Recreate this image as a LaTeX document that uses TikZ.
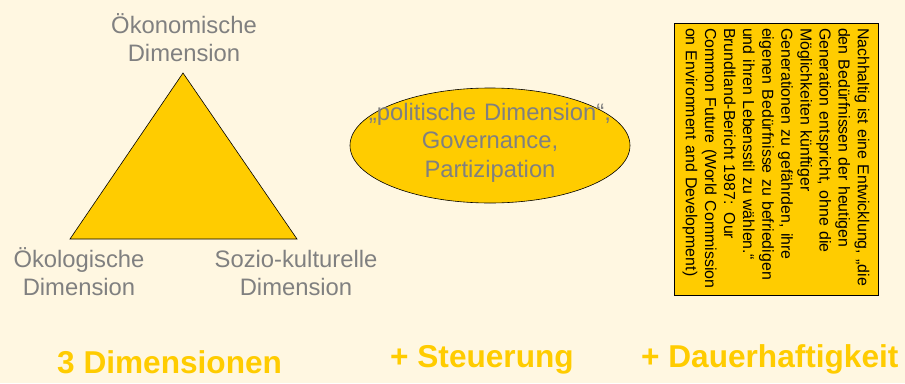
\documentclass[tikz,border=0pt]{standalone}
\usepackage{fontspec}
\setmainfont{Liberation Sans}
\usetikzlibrary{shapes.geometric}
\definecolor{bg}{HTML}{FFF7E1}
\definecolor{gold}{HTML}{FFCC00}
\definecolor{lab}{HTML}{808080}
\begin{document}
\begin{tikzpicture}[x=1pt,y=-1pt,
  dimlabel/.style={anchor=base, inner sep=0pt, text width=300pt, align=center,
    text=lab, font=\fontsize{23.8}{28.8}\selectfont},
  biglabel/.style={anchor=base west, inner sep=0pt, text=gold,
    font=\fontsize{31.6}{36}\selectfont\bfseries},
  shapeline/.style={draw=black, line width=0.6pt, fill=gold}]
\fill[bg] (0,0) rectangle (905,383);
\useasboundingbox (0,0) rectangle (905,383);
% triangle
\coordinate (apex) at (183,73);
\coordinate (bl) at (70,239);
\coordinate (br) at (297,239);
\path[shapeline] (apex) -- (bl) -- (br) -- cycle;
\node[dimlabel] (oek) at (184,33) {Ökonomische\\Dimension};
\node[dimlabel] (oeko) at (79,267) {Ökologische\\Dimension};
\node[dimlabel] (sozio) at (296,267) {Sozio-kulturelle\\Dimension};
% ellipse
\node[ellipse, shapeline, minimum width=280pt, minimum height=115pt, inner sep=0pt] (pol) at (490,145.5) {};
\node[dimlabel] (poltext) at (490,120) {„politische Dimension“,\\Governance,\\Partizipation};
% quote box
\node[draw=black, fill=gold, line width=1pt, rotate=-90, inner sep=5pt,
  text width=262pt, minimum height=204pt, align=left,
  font=\fontsize{15.9}{19.1}\selectfont] (quote) at (776,159)
  {Nachhaltig ist eine Entwicklung, „die\\
   den Bedürfnissen der heutigen\\
   Generation entspricht, ohne die\\
   Möglichkeiten künftiger\\
   Generationen zu gefährden, ihre\\
   eigenen Bedürfnisse zu befriedigen\\
   und ihren Lebensstil zu wählen.“\\
   Brundtland-Bericht 1987: Our\\
   Common Future (World Commission\\
   on Environment and Development)};
% bottom labels
\node[biglabel] (dim3) at (57,373) {3 Dimensionen};
\node[biglabel] (steu) at (390,367) {+ Steuerung};
\node[biglabel] (dauer) at (641,367) {+ Dauerhaftigkeit};
\end{tikzpicture}
\end{document}
